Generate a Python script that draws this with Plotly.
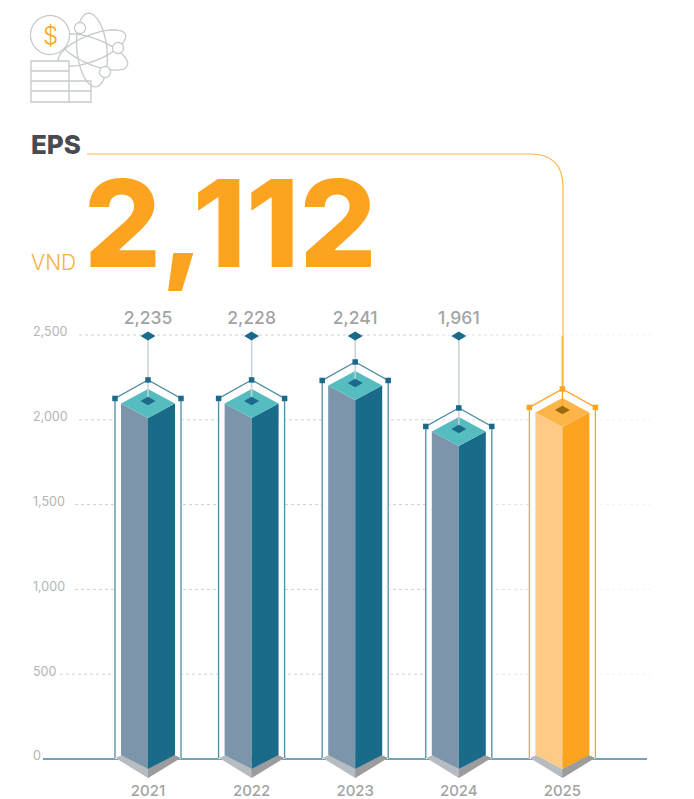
import numpy as np
import plotly.graph_objects as go

years = [2021, 2022, 2023, 2024, 2025]
eps_labels = [2235, 2228, 2241, 1961, 2112]
# height of each drawn column's wire apex (not to scale with labels)
drawn_tops = [2235, 2235, 2341, 2070, 2182]
y_ticks = [0, 500, 1000, 1500, 2000, 2500]
grid_starts = [43, 60, 75, 75, 79, 79]
headline = "2,112"
title = "EPS"
unit = "VND"

W, H = 694, 799
ML, MB = 30, 20
PX_YEAR = 103.6
PX_VAL = 0.1696
X0, Y0 = 148, 759

def yr_at(px):
    return 2021 + (px - X0) / PX_YEAR
def val_at(py):
    return (Y0 - py) / PX_VAL

BLUE = "#1a6b8a"; STEEL = "#7c95ab"; TEAL = "#55bcc0"; WIRE = "#4f8ea6"
ORANGE = "#fca31f"; LORANGE = "#fdcb85"; MORANGE = "#fdb54a"; DORANGE = "#9c6a08"
GREY = "#a3a3a3"

fig = go.Figure()

def poly(x, y, color):
    fig.add_trace(go.Scatter(x=x, y=y, mode="lines", fill="toself", fillcolor=color,
                             line=dict(width=0, color=color), hoverinfo="skip", showlegend=False))

def line(x, y, color, width=1, dash=None):
    fig.add_trace(go.Scatter(x=x, y=y, mode="lines", line=dict(color=color, width=width, dash=dash),
                             hoverinfo="skip", showlegend=False))

# gridlines, fading to the right
for v, start in zip(y_ticks[1:], grid_starts[1:]):
    for a, b, c in [(start, 430, "#cfcfcf"), (430, 540, "#e2e2e2"), (540, 650, "#f2f2f2")]:
        line([yr_at(a), yr_at(b)], [v, v], c, 1, "3px,3px")
line([yr_at(43), yr_at(647)], [0, 0], "#3d87a3", 1.5)

dx = lambda p: p / PX_YEAR
dy = lambda p: p / PX_VAL

for i, (yr, top, lab) in enumerate(zip(years, drawn_tops, eps_labels)):
    hi = yr == 2025
    cl, cr, ct, ci = (LORANGE, ORANGE, MORANGE, DORANGE) if hi else (STEEL, BLUE, TEAL, BLUE)
    cw = ORANGE if hi else WIRE
    cn = ORANGE if hi else BLUE
    # white wire box clears the baseline / gridlines
    poly([yr - dx(33), yr - dx(33), yr + dx(33), yr + dx(33)],
         [0, top - dy(18), top - dy(18), 0], "#ffffff")
    # ground shadow
    poly([yr - dx(32.5), yr, yr + dx(32.5), yr + dx(26), yr, yr - dx(26)],
         [val_at(Y0 - 1), val_at(Y0 + 19), val_at(Y0 - 1), val_at(Y0 - 4), val_at(Y0 + 10), val_at(Y0 - 4)], "#b7bcc0")
    poly([yr + dx(32.5), yr, yr, yr + dx(26)], [val_at(Y0 - 1), val_at(Y0 + 19), val_at(Y0 + 10), val_at(Y0 - 4)], "#9c9c9e")
    # column faces
    c = top - dy(23.5)  # centre of top face
    poly([yr - dx(27), yr, yr, yr - dx(27)], [c, c - dy(14.5), val_at(Y0 + 10), val_at(Y0 - 4)], cl)
    poly([yr + dx(27), yr, yr, yr + dx(27)], [c, c - dy(14.5), val_at(Y0 + 10), val_at(Y0 - 4)], cr)
    poly([yr - dx(27), yr, yr + dx(27), yr], [c, c + dy(14.5), c, c - dy(14.5)], ct)
    # wire frame
    wy = top - dy(18.5)
    line([yr - dx(33), yr - dx(33), yr, yr + dx(33), yr + dx(33)],
         [val_at(Y0 - 1), wy, top, wy, val_at(Y0 - 1)], cw, 1.3)
    # stem
    ci_y = c + dy(2.5)
    line([yr, yr], [val_at(336), ci_y], ORANGE if hi else "#c9d2d6", 1.3 if hi else 1.5)
    if not hi:
        poly([yr - dx(7.5), yr, yr + dx(7.5), yr],
             [val_at(336), val_at(331.5), val_at(336), val_at(340.5)], BLUE)
    poly([yr - dx(7.5), yr, yr + dx(7.5), yr], [ci_y, ci_y + dy(4.2), ci_y, ci_y - dy(4.2)], ci)
    fig.add_trace(go.Scatter(x=[yr - dx(33), yr, yr + dx(33)], y=[wy, top, wy], mode="markers",
                             marker=dict(symbol="square", size=5.5, color=cn),
                             hoverinfo="skip", showlegend=False))

# value labels (2025 shown by the headline)
fig.add_trace(go.Scatter(x=years[:4], y=[val_at(320)] * 4, mode="text",
                         text=[f"{v:,}" for v in eps_labels[:4]],
                         textfont=dict(family="Inter", size=17.5, color=GREY, weight=500),
                         hoverinfo="skip", showlegend=False))

def ell(cx, cy, rx, ry, deg):
    t = np.linspace(0, 2 * np.pi, 60)
    a = np.radians(deg)
    xs = cx + rx * np.cos(t) * np.cos(a) - ry * np.sin(t) * np.sin(a)
    ys = cy + rx * np.cos(t) * np.sin(a) + ry * np.sin(t) * np.cos(a)
    return "M" + " L".join(f"{p:.1f},{q:.1f}" for p, q in zip(xs, ys)) + " Z"

ICON = "#c5cacd"
shapes = []
def sh(path, color=ICON, width=1.3, fill=None):
    shapes.append(dict(type="path", path=path, xref="x2", yref="y2", layer="above",
                       line=dict(color=color, width=width),
                       fillcolor=fill if fill else "rgba(0,0,0,0)"))
sh(ell(92, 50, 15, 37, -6))
sh(ell(92, 48, 36, 13, -22))
sh(ell(94, 52, 36, 13, 22))
sh(ell(50, 35, 19.5, 19.5, 0), fill="#ffffff")
sh(ell(80, 28, 5.5, 5.5, 0), fill="#ffffff")
sh(ell(118, 48, 5.5, 5.5, 0), fill="#ffffff")
sh(ell(105, 72, 5.5, 5.5, 0), fill="#ffffff")
sh("M31,61 L69,61 L69,102 L31,102 Z", fill="#ffffff")
sh("M31,71 L69,71 M31,81 L91,81 M31,91 L91,91 M69,81 L91,81 L91,102 L69,102")
# lead line from title to the highlighted column
sh("M87,154 L530,154 Q563,154 563,187 L563,389", color="#fdb54a", width=1.2)

def note(x, y, text, family, size, color, weight=400, anchor="left", xshift=0):
    return dict(x=x, y=y, xref="x2", yref="y2", text=text, showarrow=False, xanchor=anchor, xshift=xshift,
                yanchor="middle", font=dict(family=family, size=size, color=color, weight=weight))

annotations = [
    note(50, 35, "$", "Inter", 24, ORANGE, 300, "center"),
    note(30, 144, title, "Inter", 26, "#484b52", 800, xshift=-1),
    note(30, 262, unit, "Inter", 21, "#fcb040", 300, xshift=-1),
    note(82, 223, headline, "Inter", 121, ORANGE, 800),
]

fig.add_trace(go.Scatter(x=[0], y=[0], xaxis="x2", yaxis="y2", mode="markers", marker=dict(opacity=0),
                         hoverinfo="skip", showlegend=False))

fig.update_layout(
    width=W, height=H, margin=dict(l=ML, r=0, t=0, b=MB, autoexpand=False),
    paper_bgcolor="white", plot_bgcolor="white", showlegend=False, shapes=shapes, annotations=annotations,
    xaxis=dict(range=[yr_at(ML), yr_at(W)], tickvals=years, ticktext=[str(y) for y in years],
               showgrid=False, zeroline=False, showline=False, ticks="", ticklen=0, ticklabelstandoff=1,
               tickfont=dict(family="Inter", size=15, color=GREY, weight=500), automargin=False),
    yaxis=dict(range=[val_at(H - MB), val_at(0)], tickvals=y_ticks, ticktext=[f"{v:,}" for v in y_ticks],
               showgrid=False, zeroline=False, showline=False, ticks="", ticklabelposition="inside",
               ticklabelshift=-3, tickfont=dict(family="Inter", size=12.5, color="#b4b4b4"), automargin=False),
    xaxis2=dict(range=[ML, W], visible=False, overlaying="x", anchor="y2"),
    yaxis2=dict(range=[H - MB, 0], visible=False, overlaying="y", anchor="x2"),
)
fig.write_html("out.html", config=dict(displayModeBar=False),
               post_script="document.body.style.margin='0';")
